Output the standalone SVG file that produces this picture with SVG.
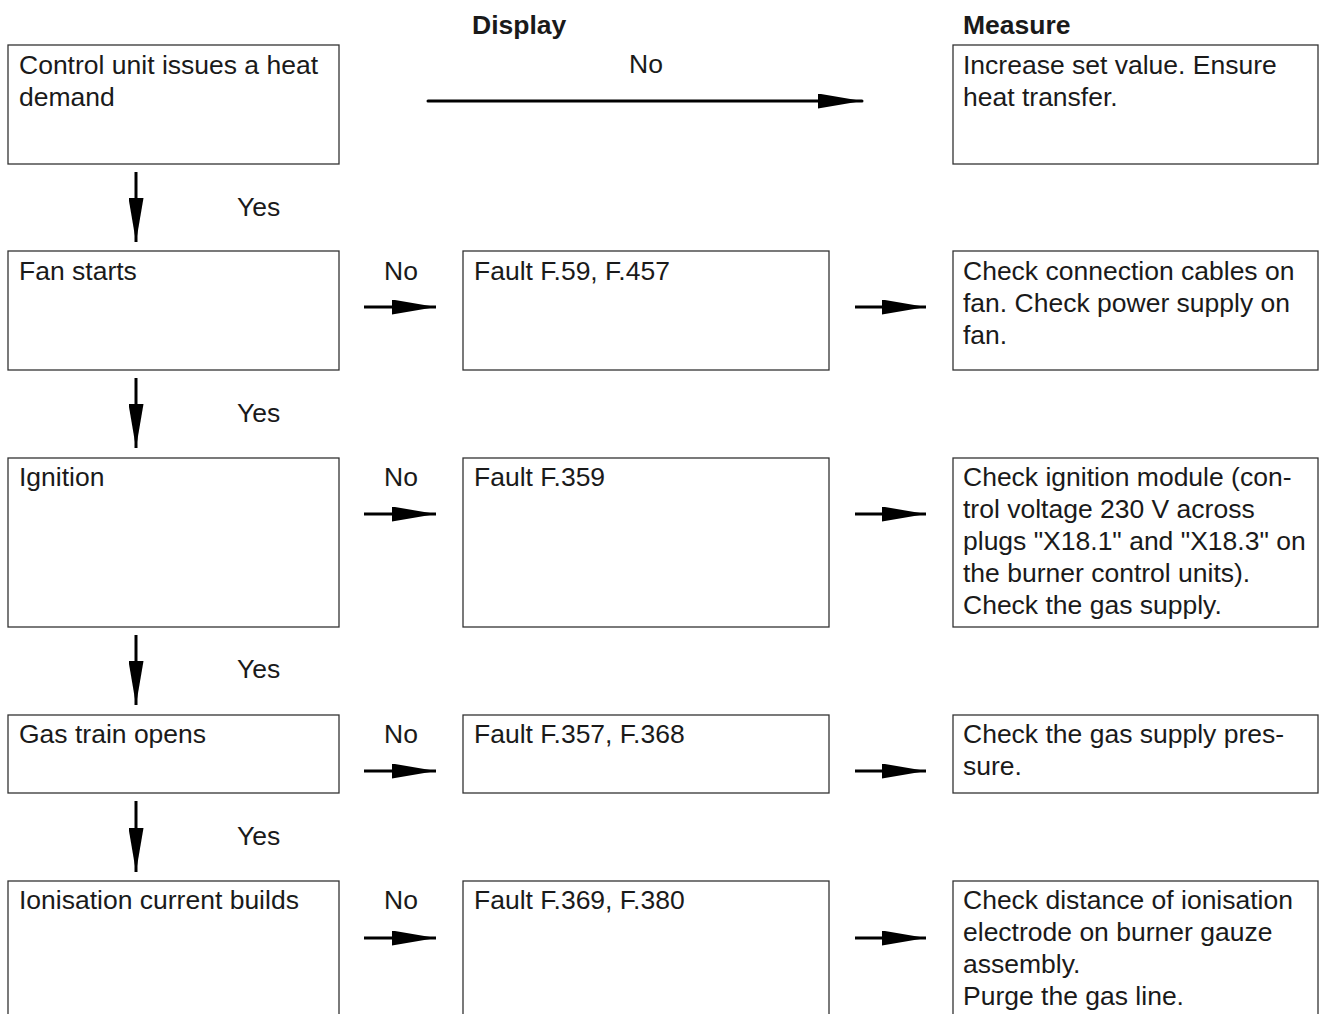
<svg xmlns="http://www.w3.org/2000/svg" width="1320" height="1014" viewBox="0 0 1320 1014">
<style>
.box{fill:#fff;stroke:#333;stroke-width:1.3}
.t{font-family:"Liberation Sans",Arial,sans-serif;font-size:26.5px;fill:#1a1a1a}
.h{font-family:"Liberation Sans",Arial,sans-serif;font-size:26.5px;font-weight:bold;fill:#1a1a1a}
.c{stroke:#000;stroke-width:3;fill:none}
</style>
<defs>
<marker id="ah" viewBox="0 0 44 15" refX="44" refY="7.5" markerWidth="44" markerHeight="15" markerUnits="userSpaceOnUse" orient="auto"><path d="M0,0 L44,7.5 L0,15 z" fill="#000"/></marker>
</defs>
<rect width="1320" height="1014" fill="#fff"/>
<text class="h" x="472" y="34">Display</text>
<text class="h" x="963" y="34">Measure</text>

<g id="n1"><rect class="box" x="8" y="45" width="331" height="119"/><text class="t" x="19" y="74">Control unit issues a heat</text><text class="t" x="19" y="106">demand</text></g>
<g id="m1"><rect class="box" x="953" y="45" width="365" height="119"/><text class="t" x="963" y="74">Increase set value. Ensure</text><text class="t" x="963" y="106">heat transfer.</text></g>

<g id="n2"><rect class="box" x="8" y="251" width="331" height="119"/><text class="t" x="19" y="280">Fan starts</text></g>
<g id="d2"><rect class="box" x="463" y="251" width="366" height="119"/><text class="t" x="474" y="280">Fault F.59, F.457</text></g>
<g id="m2"><rect class="box" x="953" y="251" width="365" height="119"/><text class="t" x="963" y="280">Check connection cables on</text><text class="t" x="963" y="312">fan. Check power supply on</text><text class="t" x="963" y="344">fan.</text></g>

<g id="n3"><rect class="box" x="8" y="458" width="331" height="169"/><text class="t" x="19" y="486">Ignition</text></g>
<g id="d3"><rect class="box" x="463" y="458" width="366" height="169"/><text class="t" x="474" y="486">Fault F.359</text></g>
<g id="m3"><rect class="box" x="953" y="458" width="365" height="169"/><text class="t" x="963" y="486">Check ignition module (con-</text><text class="t" x="963" y="518">trol voltage 230 V across</text><text class="t" x="963" y="550">plugs "X18.1" and "X18.3" on</text><text class="t" x="963" y="582">the burner control units).</text><text class="t" x="963" y="614">Check the gas supply.</text></g>

<g id="n4"><rect class="box" x="8" y="715" width="331" height="78"/><text class="t" x="19" y="743">Gas train opens</text></g>
<g id="d4"><rect class="box" x="463" y="715" width="366" height="78"/><text class="t" x="474" y="743">Fault F.357, F.368</text></g>
<g id="m4"><rect class="box" x="953" y="715" width="365" height="78"/><text class="t" x="963" y="743">Check the gas supply pres-</text><text class="t" x="963" y="775">sure.</text></g>

<g id="n5"><rect class="box" x="8" y="881" width="331" height="140"/><text class="t" x="19" y="909">Ionisation current builds</text></g>
<g id="d5"><rect class="box" x="463" y="881" width="366" height="140"/><text class="t" x="474" y="909">Fault F.369, F.380</text></g>
<g id="m5"><rect class="box" x="953" y="881" width="365" height="140"/><text class="t" x="963" y="909">Check distance of ionisation</text><text class="t" x="963" y="941">electrode on burner gauze</text><text class="t" x="963" y="973">assembly.</text><text class="t" x="963" y="1005">Purge the gas line.</text></g>

<g id="connectors">
<line class="c" x1="428" y1="101" x2="862" y2="101" marker-end="url(#ah)" stroke-linecap="round"/>
<text class="t" x="646" y="73" text-anchor="middle">No</text>
<line class="c" x1="136" y1="172" x2="136" y2="242" marker-end="url(#ah)"/>
<text class="t" x="237" y="216">Yes</text>
<line class="c" x1="136" y1="378" x2="136" y2="448" marker-end="url(#ah)"/>
<text class="t" x="237" y="422">Yes</text>
<line class="c" x1="136" y1="635" x2="136" y2="705" marker-end="url(#ah)"/>
<text class="t" x="237" y="678">Yes</text>
<line class="c" x1="136" y1="801" x2="136" y2="872" marker-end="url(#ah)"/>
<text class="t" x="237" y="845">Yes</text>

<text class="t" x="401" y="280" text-anchor="middle">No</text>
<line class="c" x1="364" y1="307" x2="436" y2="307" marker-end="url(#ah)"/>
<line class="c" x1="855" y1="307" x2="926" y2="307" marker-end="url(#ah)"/>
<text class="t" x="401" y="486" text-anchor="middle">No</text>
<line class="c" x1="364" y1="514" x2="436" y2="514" marker-end="url(#ah)"/>
<line class="c" x1="855" y1="514" x2="926" y2="514" marker-end="url(#ah)"/>
<text class="t" x="401" y="743" text-anchor="middle">No</text>
<line class="c" x1="364" y1="771" x2="436" y2="771" marker-end="url(#ah)"/>
<line class="c" x1="855" y1="771" x2="926" y2="771" marker-end="url(#ah)"/>
<text class="t" x="401" y="909" text-anchor="middle">No</text>
<line class="c" x1="364" y1="938" x2="436" y2="938" marker-end="url(#ah)"/>
<line class="c" x1="855" y1="938" x2="926" y2="938" marker-end="url(#ah)"/>
</g>
</svg>
